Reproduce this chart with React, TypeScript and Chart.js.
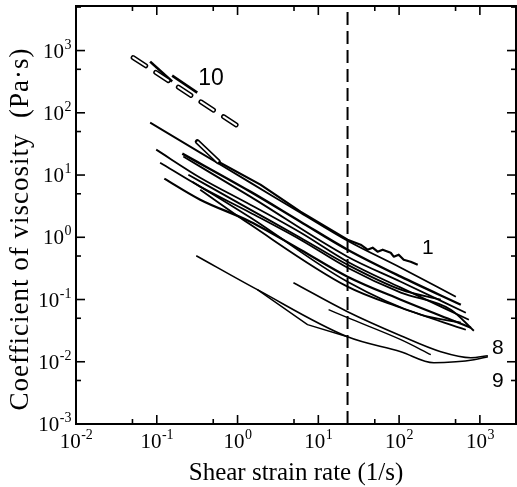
import React, { useEffect, useRef } from "react";
import { Chart, registerables } from "chart.js";

Chart.register(...registerables);

// ---------------- data ----------------
const xTickExponents = [-2, -1, 0, 1, 2, 3];
const yTickExponents = [-3, -2, -1, 0, 1, 2, 3];
const xAxisTitle = "Shear strain rate (1/s)";
const yAxisTitle = "Coefficient of viscosity  (Pa\u00b7s)";

const criticalShearRate = 23;

// curve 10 (dashed, outlined) and its solid start
const c10DashX = [0.051, 1.08];
const c10DashY = [772, 57.8];
const c10SolidAX = [0.0828, 0.155];
const c10SolidAY = [665, 318];
const c10SolidBX = [0.155, 0.317];
const c10SolidBY = [396, 211];

// curve 1 (top of the main bundle)
const c1HollowX = [0.317, 0.578];
const c1HollowY = [34.4, 16.4];
const c1X = [0.317, 0.578, 1.92, 6.01, 23, 33.4, 40.7, 47, 54.2, 62.6, 78.7, 85.8, 98.9, 114, 139, 170];
const c1Y = [34.4, 16.4, 7.01, 2.58, 0.914, 0.76, 0.632, 0.681, 0.586, 0.632, 0.565, 0.488, 0.525, 0.436, 0.405, 0.362];

// main bundle
const cAX = [0.0828, 0.345, 1.44, 6.01, 23, 105, 504];
const cAY = [69.5, 22.9, 7.55, 2.48, 0.881, 0.324, 0.111];
const cBX = [0.207, 1.44, 6.01, 23, 105, 581];
const cBY = [22.1, 5.41, 1.78, 0.632, 0.233, 0.0824];
const cCX = [0.213, 1.44, 23, 105, 670];
const cCY = [19.8, 4.5, 0.488, 0.193, 0.0614];
const cDX = [0.0984, 0.345, 1.44, 6.01, 23, 105, 731];
const cDY = [25.6, 9.08, 3.34, 1.19, 0.405, 0.155, 0.0473];
const cEX = [0.11, 0.345, 1.44, 6.01, 23, 105, 437, 843];
const cEY = [15.8, 6.52, 2.48, 0.914, 0.324, 0.129, 0.0686, 0.0315];
const cFX = [0.246, 1.44, 6.01, 23, 105, 328];
const cFY = [10.1, 2.78, 0.986, 0.362, 0.144, 0.0993];
const cGX = [0.124, 0.345, 1.44, 6.01, 23, 105, 437, 773];
const cGY = [8.75, 4.02, 1.78, 0.632, 0.233, 0.0993, 0.0473, 0.0352];
const cHX = [0.275, 1.44, 23, 185, 581];
const cHY = [7.83, 2.07, 0.193, 0.057, 0.0424];
const cIX = [0.345, 1.44, 23, 105, 670];
const cIY = [5.82, 1.6, 0.161, 0.0738, 0.0327];

// lower group (curves 8 and 9)
const c9X = [0.308, 1.76, 23, 105, 269, 504, 843, 1256];
const c9Y = [0.506, 0.144, 0.0252, 0.0145, 0.00964, 0.01, 0.0108, 0.012];
const c9bX = [1.76, 7.35, 23];
const c9bY = [0.144, 0.0394, 0.0252];
const c8X = [4.92, 23, 105, 328, 773, 1256];
const c8Y = [0.186, 0.0637, 0.0262, 0.0145, 0.0116, 0.0125];
const c8bX = [13.4, 23, 105, 247];
const c8bY = [0.0686, 0.051, 0.0226, 0.013];

// curve labels (data coordinates)
const curveLabels = ["10", "1", "8", "9"];
const curveLabelX = [0.47, 227, 1670, 1670];
const curveLabelY = [355, 0.68, 0.0168, 0.00495];

// ---------------- helpers ----------------
const pts = (xs: number[], ys: number[]) => xs.map((x, i) => ({ x, y: ys[i] }));

const AXIS_MIN_X = 0.01;
const AXIS_MAX_X = 2800;
const AXIS_MIN_Y = 0.001;
const AXIS_MAX_Y = 5200;

const SERIF = '"Liberation Serif", "Times New Roman", serif';
const SANS = '"Liberation Sans", Arial, sans-serif';

const framePlugin = {
  id: "frameAndLabels",
  afterDraw(chart: any) {
    const { ctx, chartArea: a, scales } = chart;
    const xs = scales.x;
    const ys = scales.y;
    ctx.save();
    ctx.strokeStyle = "#000";
    ctx.fillStyle = "#000";

    const seg = (x1: number, y1: number, x2: number, y2: number) => {
      ctx.beginPath();
      ctx.moveTo(x1, y1);
      ctx.lineTo(x2, y2);
      ctx.stroke();
    };

    // ticks
    ctx.lineWidth = 1.6;
    const major = 9;
    const minor = 5;
    for (const e of xTickExponents) {
      const v = Math.pow(10, e);
      const px = xs.getPixelForValue(v);
      seg(px, a.bottom, px, a.bottom - major);
      seg(px, a.top, px, a.top + major);
      const m = 5 * v;
      if (m < AXIS_MAX_X) {
        const pm = xs.getPixelForValue(m);
        seg(pm, a.bottom, pm, a.bottom - minor);
        seg(pm, a.top, pm, a.top + minor);
      }
    }
    for (const e of yTickExponents) {
      const v = Math.pow(10, e);
      const py = ys.getPixelForValue(v);
      seg(a.left, py, a.left + major, py);
      seg(a.right, py, a.right - major, py);
      const m = 5 * v;
      if (m < AXIS_MAX_Y) {
        const pm = ys.getPixelForValue(m);
        seg(a.left, pm, a.left + minor, pm);
        seg(a.right, pm, a.right - minor, pm);
      }
    }

    // frame
    ctx.lineWidth = 2;
    ctx.strokeRect(a.left, a.top, a.right - a.left, a.bottom - a.top);

    // tick labels
    const baseFont = `21px ${SERIF}`;
    const expFont = `14px ${SERIF}`;
    ctx.textBaseline = "alphabetic";
    ctx.textAlign = "left";
    for (const e of xTickExponents) {
      const px = xs.getPixelForValue(Math.pow(10, e));
      const exp = String(e);
      ctx.font = baseFont;
      const w1 = ctx.measureText("10").width;
      ctx.font = expFont;
      const w2 = ctx.measureText(exp).width;
      const start = px - (w1 + w2) / 2;
      ctx.font = baseFont;
      ctx.fillText("10", start, a.bottom + 24);
      ctx.font = expFont;
      ctx.fillText(exp, start + w1 + 0.5, a.bottom + 15);
    }
    for (const e of yTickExponents) {
      const py = ys.getPixelForValue(Math.pow(10, e));
      const exp = String(e);
      ctx.font = baseFont;
      const w1 = ctx.measureText("10").width;
      ctx.font = expFont;
      const w2 = ctx.measureText(exp).width;
      const right = a.left - 5;
      const start = right - w1 - w2;
      ctx.font = baseFont;
      ctx.fillText("10", start, py + 7);
      ctx.font = expFont;
      ctx.fillText(exp, start + w1 + 0.5, py - 2);
    }

    // axis titles
    ctx.font = `25px ${SERIF}`;
    ctx.textAlign = "center";
    ctx.fillText(xAxisTitle, (a.left + a.right) / 2 + 0, a.bottom + 56);
    ctx.save();
    ctx.translate(21, (a.top + a.bottom) / 2 + 14);
    ctx.rotate(-Math.PI / 2);
    ctx.textBaseline = "middle";
    ctx.font = `27px ${SERIF}`;
    (ctx as any).letterSpacing = "1px";
    ctx.fillText(yAxisTitle, 0, 0);
    ctx.restore();

    // curve labels
    ctx.textAlign = "center";
    ctx.textBaseline = "middle";
    curveLabels.forEach((t, i) => {
      ctx.font = `${t === "10" ? 23 : 21}px ${SANS}`;
      ctx.fillText(t, xs.getPixelForValue(curveLabelX[i]), ys.getPixelForValue(curveLabelY[i]));
    });
    ctx.restore();
  },
};

export default function App() {
  const ref = useRef<HTMLCanvasElement | null>(null);

  useEffect(() => {
    document.body.style.margin = "0";
    const canvas = ref.current;
    if (!canvas) return;

    const solid = (xs: number[], ys: number[], width = 1.8, smooth = true) => ({
      data: pts(xs, ys),
      borderColor: "#000",
      borderWidth: width,
      pointRadius: 0,
      tension: smooth ? 0.4 : 0,
      cubicInterpolationMode: smooth ? "monotone" : "default",
      fill: false,
      order: 2,
    });

    const datasets: any[] = [
      // vertical dashed line
      {
        data: pts([criticalShearRate, criticalShearRate], [AXIS_MIN_Y, AXIS_MAX_Y]),
        borderColor: "#000",
        borderWidth: 2,
        borderDash: [13, 6],
        pointRadius: 0,
        order: 3,
      },
      // curve 10 outlined dashes
      {
        data: pts(c10DashX, c10DashY),
        borderColor: "#000",
        borderWidth: 5,
        borderDash: [15, 12],
        borderCapStyle: "round",
        pointRadius: 0,
        order: 1,
      },
      {
        data: pts(c10DashX, c10DashY),
        borderColor: "#fff",
        borderWidth: 2,
        borderDash: [15, 12],
        borderCapStyle: "round",
        pointRadius: 0,
        order: 0,
      },
      solid(c10SolidAX, c10SolidAY, 2.6, false),
      solid(c10SolidBX, c10SolidBY, 2.6, false),
      // curve 1
      solid(c1X, c1Y, 2.2, false),
      {
        data: pts(c1HollowX, c1HollowY),
        borderColor: "#000",
        borderWidth: 5,
        borderCapStyle: "round",
        pointRadius: 0,
        order: 1,
      },
      {
        data: pts(c1HollowX, c1HollowY),
        borderColor: "#fff",
        borderWidth: 2,
        pointRadius: 0,
        order: 0,
      },
      solid(cAX, cAY),
      solid(cBX, cBY, 2.4),
      solid(cCX, cCY),
      solid(cDX, cDY),
      solid(cEX, cEY),
      solid(cFX, cFY),
      solid(cGX, cGY, 2.2),
      solid(cHX, cHY),
      solid(cIX, cIY),
      solid(c9X, c9Y, 1.6),
      solid(c9bX, c9bY, 1.4, false),
      solid(c8X, c8Y, 1.6),
      solid(c8bX, c8bY, 1.4),
    ];

    const chart = new Chart(canvas, {
      type: "line",
      data: { datasets },
      options: {
        animation: false,
        responsive: false,
        devicePixelRatio: 1,
        layout: { padding: { left: 76, right: 1, top: 6, bottom: 63 } },
        plugins: { legend: { display: false }, tooltip: { enabled: false } },
        elements: { line: { borderJoinStyle: "round" } },
        scales: {
          x: { type: "logarithmic", min: AXIS_MIN_X, max: AXIS_MAX_X, display: false },
          y: { type: "logarithmic", min: AXIS_MIN_Y, max: AXIS_MAX_Y, display: false },
        },
      },
      plugins: [framePlugin],
    } as any);

    return () => chart.destroy();
  }, []);

  return (
    <div style={{ position: "absolute", left: 0, top: 0, width: 517, height: 487, background: "#fff" }}>
      <canvas ref={ref} width={517} height={487} style={{ display: "block" }} />
    </div>
  );
}
